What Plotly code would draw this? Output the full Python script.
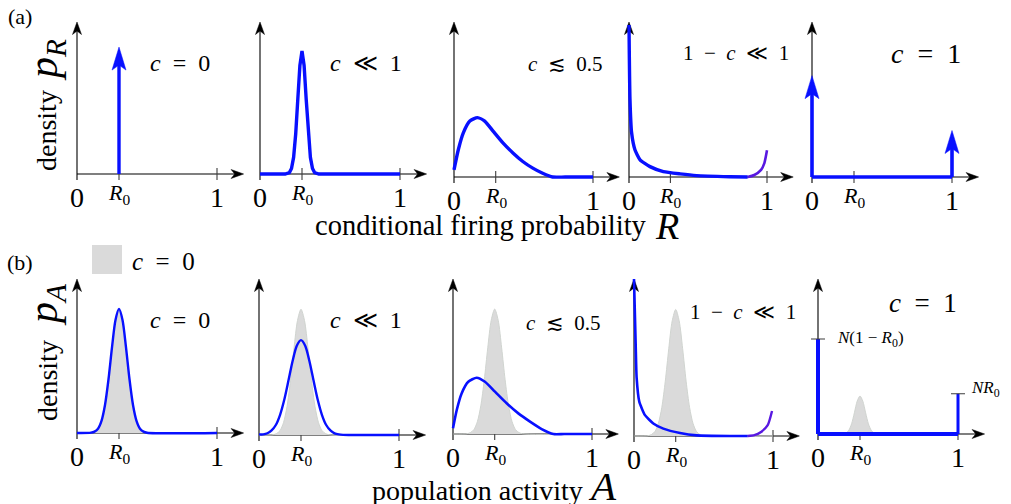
import plotly.graph_objects as go

W, H = 1011, 504
R0 = 0.3

# ---------------- data ----------------
# (a) conditional firing probability densities p_R
a1_delta_x = [R0]
a1_delta_h = [0.835]

a2_x = [0.0, 0.18, 0.21, 0.225, 0.24, 0.255, 0.27, 0.285, 0.3, 0.315, 0.33, 0.345, 0.36, 0.375, 0.39, 0.42, 1.0]
a2_y = [0.0, 0.0, 0.009, 0.036, 0.109, 0.263, 0.491, 0.714, 0.81, 0.714, 0.491, 0.263, 0.109, 0.036, 0.009, 0.0, 0.0]

a3_x = [0.0, 0.031, 0.067, 0.114, 0.169, 0.221, 0.281, 0.352, 0.424, 0.495, 0.567, 0.638, 0.71, 0.8, 1.0]
a3_y = [0.046, 0.176, 0.285, 0.361, 0.383, 0.361, 0.296, 0.22, 0.155, 0.1, 0.057, 0.024, 0.0, 0.0, 0.0]

a4_x = [0.0, 0.007, 0.019, 0.043, 0.08, 0.152, 0.249, 0.37, 0.49, 0.73, 0.86]
a4_y = [0.98, 0.503, 0.285, 0.176, 0.111, 0.067, 0.035, 0.02, 0.009, 0.002, 0.0]
a4_end_x = [0.86, 0.908, 0.957, 0.981, 1.0]
a4_end_y = [0.0, 0.013, 0.046, 0.09, 0.172]

a5_delta_x = [0.0, 1.0]
a5_delta_h = [0.654, 0.30]

# (b) population activity densities p_A
c0_x = [0.0, 0.1, 0.125, 0.15, 0.175, 0.2, 0.225, 0.25, 0.275, 0.3, 0.325, 0.35, 0.375, 0.4, 0.425, 0.45, 0.475, 0.5, 1.0]
c0_y = [0.0, 0.002, 0.009, 0.028, 0.079, 0.182, 0.349, 0.556, 0.734, 0.806, 0.734, 0.556, 0.349, 0.182, 0.079, 0.028, 0.009, 0.002, 0.0]

b2_x = [0.0, 0.03, 0.06, 0.09, 0.12, 0.15, 0.18, 0.21, 0.24, 0.27, 0.3, 0.33, 0.36, 0.39, 0.42, 0.45, 0.48, 0.51, 0.54, 0.57, 0.6, 1.0]
b2_y = [0.004, 0.004, 0.011, 0.029, 0.064, 0.128, 0.224, 0.347, 0.474, 0.572, 0.608, 0.572, 0.474, 0.347, 0.224, 0.128, 0.064, 0.029, 0.011, 0.004, 0.001, 0.0]

b3_x = [0.0, 0.027, 0.062, 0.11, 0.17, 0.23, 0.302, 0.386, 0.47, 0.554, 0.638, 0.722, 0.8, 1.0]
b3_y = [0.037, 0.155, 0.262, 0.337, 0.363, 0.337, 0.273, 0.198, 0.133, 0.08, 0.032, 0.0, 0.0, 0.0]

b4_x = [0.0, 0.012, 0.019, 0.038, 0.079, 0.139, 0.211, 0.331, 0.451, 0.69, 0.818]
b4_y = [1.0, 0.585, 0.37, 0.219, 0.133, 0.08, 0.047, 0.019, 0.004, 0.0, 0.0]
b4_end_x = [0.818, 0.866, 0.914, 0.962, 0.993]
b4_end_y = [0.0, 0.005, 0.026, 0.069, 0.159]

b5_stem_x = [0.0, 1.0]
b5_stem_h = [0.613, 0.26]
b5_stem_labels = ["<i>N</i>(1 \u2212 <i>R</i><sub>0</sub>)", "<i>NR</i><sub>0</sub>"]
b5_gray_x = [0.18, 0.2, 0.22, 0.24, 0.26, 0.28, 0.3, 0.32, 0.34, 0.36, 0.38, 0.4, 0.42]
b5_gray_y = [0.001, 0.006, 0.024, 0.066, 0.137, 0.212, 0.245, 0.212, 0.137, 0.066, 0.024, 0.006, 0.001]

tick_vals = [0.0, R0, 1.0]
tick_text = ["0", "<i>R</i><sub>0</sub>", "1"]
titles_a = ["<i>c</i>\u2002=\u20020", "<i>c</i>\u2002\u226a\u20021", "<i>c</i>\u2002\u2272\u20020.5",
            "1\u2002\u2212\u2002<i>c</i>\u2002\u226a\u20021", "<i>c</i>\u2002=\u20021"]
titles_b = titles_a

# ---------------- layout geometry (pixels) ----------------
# (x at 0, x at 1, baseline y, arrow-top y)
panels = [
    (77, 217, 174, 22), (260, 400, 174, 22), (454, 593, 177, 22), (629, 767, 177, 22), (812, 952, 177, 22),
    (77, 217, 433, 279), (259, 399, 435, 279), (453, 592, 434, 279), (634, 773, 436, 279), (818, 958, 434, 279),
]
XR = (-0.1, 1.25)
YR = (-0.2, 1.06)
X_TIP = 1.19

FONT = "Liberation Serif"
BLUE = "rgb(8,16,255)"
PURPLE = "rgb(88,24,225)"
GRAY_FILL = "rgb(218,218,218)"
GRAY_LINE = "rgb(208,212,208)"

fig = go.Figure()
layout = {}
scales = []
for i, (x0, x1, base, top) in enumerate(panels):
    sx = x1 - x0
    sy = base - top
    scales.append((sx, sy))
    left = x0 + XR[0] * sx
    right = x0 + XR[1] * sx
    ybot = base - YR[0] * sy
    ytop = top - (YR[1] - 1) * sy
    n = "" if i == 0 else str(i + 1)
    layout["xaxis" + n] = dict(domain=[left / W, right / W], range=list(XR), visible=False,
                               anchor="y" + n, fixedrange=True)
    layout["yaxis" + n] = dict(domain=[1 - ybot / H, 1 - ytop / H], range=list(YR), visible=False,
                               anchor="x" + n, fixedrange=True)


def ax_names(i):
    n = "" if i == 0 else str(i + 1)
    return "x" + n, "y" + n


def line(i, x, y, color, width, shape="linear", smoothing=1.0):
    xa, ya = ax_names(i)
    fig.add_trace(go.Scatter(x=x, y=y, xaxis=xa, yaxis=ya, mode="lines",
                             line=dict(color=color, width=width, shape=shape, smoothing=smoothing),
                             hoverinfo="skip", showlegend=False))


def area(i, x, y):
    xa, ya = ax_names(i)
    fig.add_trace(go.Scatter(x=x, y=y, xaxis=xa, yaxis=ya, mode="lines", fill="tozeroy",
                             fillcolor=GRAY_FILL, line=dict(color=GRAY_LINE, width=1, shape="spline", smoothing=0.8),
                             hoverinfo="skip", showlegend=False))


def head(i, tx, ty, direction, L, hw, notch, color):
    sx, sy = scales[i]
    if direction == "right":
        xs = [tx, tx - L / sx, tx - (L - notch) / sx, tx - L / sx, tx]
        ys = [ty, ty + hw / sy, ty, ty - hw / sy, ty]
    else:
        xs = [tx, tx + hw / sx, tx, tx - hw / sx, tx]
        ys = [ty, ty - L / sy, ty - (L - notch) / sy, ty - L / sy, ty]
    xa, ya = ax_names(i)
    fig.add_trace(go.Scatter(x=xs, y=ys, xaxis=xa, yaxis=ya, mode="lines", fill="toself",
                             fillcolor=color, line=dict(color=color, width=0.5),
                             hoverinfo="skip", showlegend=False))


annotations = []
shapes = []


def txt(px, py, text, size, xanchor="center", angle=0, yanchor="middle"):
    annotations.append(dict(x=px / W, y=1 - py / H, xref="paper", yref="paper", text=text,
                            showarrow=False, xanchor=xanchor, yanchor=yanchor, textangle=angle,
                            font=dict(family=FONT, size=size, color="black")))


# axes for every panel
for i in range(10):
    sx, sy = scales[i]
    t = 6.0 / sy
    line(i, [0, 0], [-t, 1.0 - 6 / sy], "black", 1.1)
    head(i, 0, 1.0, "up", 12.5, 4.5, 3.6, "black")
    line(i, [0, X_TIP - 6 / sx], [0, 0], "black", 1.1)
    head(i, X_TIP, 0, "right", 12.5, 4.5, 3.6, "black")
    for tv in tick_vals[1:]:
        line(i, [tv, tv], [-t, t], "rgb(60,60,60)", 1.1)

# ---------- row (a) ----------
sx, sy = scales[0]
for xv, hv in zip(a1_delta_x, a1_delta_h):
    line(0, [xv, xv], [0, hv - 16 / sy], BLUE, 3.4)
    head(0, xv, hv, "up", 23, 7, 5, BLUE)

line(1, a2_x, a2_y, BLUE, 3.4)
line(2, a3_x, a3_y, BLUE, 3.4, "spline", 0.6)
line(3, a4_x, a4_y, BLUE, 3.4, "spline", 0.5)
line(3, a4_end_x, a4_end_y, PURPLE, 2.6, "spline", 0.6)

sx, sy = scales[4]
line(4, [a5_delta_x[0], a5_delta_x[-1]], [0, 0], BLUE, 3.6)
for xv, hv in zip(a5_delta_x, a5_delta_h):
    line(4, [xv, xv], [0, hv - 16 / sy], BLUE, 3.6)
    head(4, xv, hv, "up", 23, 7, 5, BLUE)

# ---------- row (b) ----------
area(5, c0_x, c0_y)
line(5, c0_x, c0_y, BLUE, 2.4, "spline", 0.8)
area(6, c0_x, c0_y)
line(6, b2_x, b2_y, BLUE, 2.4, "spline", 0.8)
area(7, c0_x, c0_y)
line(7, b3_x, b3_y, BLUE, 2.6, "spline", 0.6)
area(8, c0_x, c0_y)
line(8, b4_x, b4_y, BLUE, 2.6, "spline", 0.5)
line(8, b4_end_x, b4_end_y, PURPLE, 2.4, "spline", 0.6)
area(9, b5_gray_x, b5_gray_y)
sx, sy = scales[9]
line(9, [b5_stem_x[0], b5_stem_x[-1]], [0, 0], BLUE, 4)
for k, (xv, hv) in enumerate(zip(b5_stem_x, b5_stem_h)):
    line(9, [xv, xv], [0, hv], BLUE, 4 if k == 0 else 3)
    line(9, [xv - 7 / sx, xv + 7 / sx], [hv, hv], "rgb(60,60,60)", 1.1)
    annotations.append(dict(x=xv, y=hv, xref="x10", yref="y10", text=b5_stem_labels[k], showarrow=False,
                            xanchor="left", yanchor="middle", xshift=(17 if k == 0 else 11),
                            yshift=(0 if k == 0 else 5),
                            font=dict(family=FONT, size=17, color="black")))

# ---------- tick labels & panel titles ----------
title_pos_a = [(180, 63, 24), (366, 63, 24), (565, 64, 21), (736, 53, 21), (926, 54, 28)]
title_pos_b = [(180, 320, 24), (366, 320, 24), (563, 323, 21), (743, 312, 21), (923, 303, 27)]
for i in range(10):
    for tv, tt in zip(tick_vals, tick_text):
        is_r = "R" in tt
        annotations.append(dict(x=tv, y=0, xref=ax_names(i)[0], yref=ax_names(i)[1], text=tt,
                                showarrow=False, xanchor="center", yanchor="middle",
                                yshift=-(20 if is_r else 23),
                                font=dict(family=FONT, size=(22 if is_r else 28), color="black")))
for (px, py, s), t in zip(title_pos_a, titles_a):
    txt(px, py, t, s)
for (px, py, s), t in zip(title_pos_b, titles_b):
    txt(px, py, t, s)

# panel letters, axis titles, legend
txt(20, 17, "(a)", 22)
txt(20, 262, "(b)", 22)
txt(47, 131, "density", 28, angle=-90)
txt(46, 60, "<i>p</i><sub><i>R</i></sub>", 42, angle=-90)
txt(47, 381, "density", 28, angle=-90)
txt(46, 305, "<i>p</i><sub><i>A</i></sub>", 42, angle=-90)
txt(313, 226, "conditional firing probability", 28.5, xanchor="left")
txt(653, 226, "<i>R</i>", 38, xanchor="left")
txt(370, 490, "population activity", 28, xanchor="left")
txt(586, 486, "<i>A</i>", 41, xanchor="left")

shapes.append(dict(type="rect", xref="paper", yref="paper", x0=92 / W, x1=122 / W, y0=1 - 274 / H, y1=1 - 245 / H,
                   fillcolor=GRAY_FILL, line=dict(width=0)))
txt(130, 261, titles_b[0], 25, xanchor="left")

fig.update_layout(
    width=W, height=H, margin=dict(l=0, r=0, t=0, b=0),
    paper_bgcolor="white", plot_bgcolor="rgba(0,0,0,0)",
    showlegend=False, annotations=annotations, shapes=shapes, **layout,
)
fig.write_html("out.html", config={"displayModeBar": False})
